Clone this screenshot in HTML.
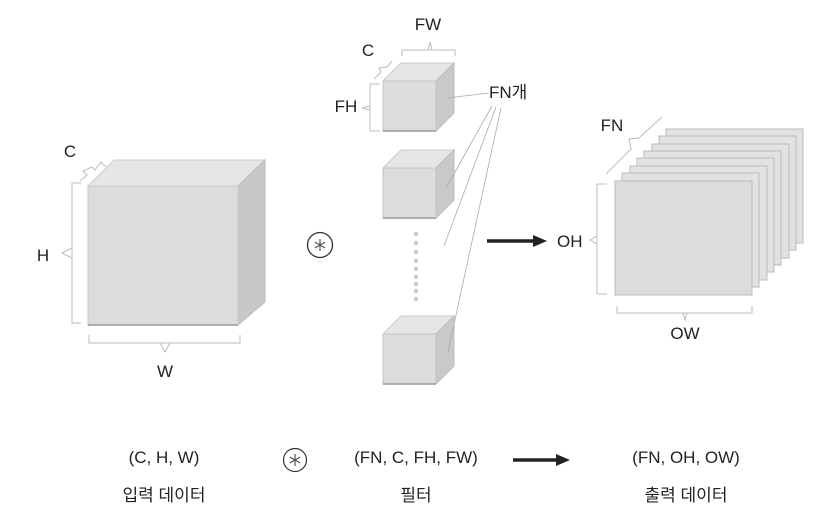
<!DOCTYPE html>
<html><head><meta charset="utf-8"><style>
html,body{margin:0;padding:0;background:#fff;width:835px;height:518px;overflow:hidden}
text{font-family:"Liberation Sans","Noto Sans CJK KR",sans-serif;fill:#222}
</style></head><body>
<svg width="835" height="518" viewBox="0 0 835 518" xmlns="http://www.w3.org/2000/svg">
<defs>
<g id="cube">
<polygon points="0,18 18,0 71,0 53,18" fill="#e6e6e6" stroke="#c8c8c8" stroke-width="1"/>
<polygon points="53,18 71,0 71,50 53,68" fill="#c9c9c9" stroke="#bbb" stroke-width="1"/>
<rect x="0" y="18" width="53" height="50" fill="#dcdcdc" stroke="#c4c4c4" stroke-width="1"/>
<line x1="0" y1="68" x2="53" y2="68" stroke="#999" stroke-width="1.5"/>
</g>
<g id="ast" stroke="#555" stroke-width="1.2">
<line x1="0" y1="-6" x2="0" y2="6"/>
<line x1="-5.2" y1="-3" x2="5.2" y2="3"/>
<line x1="-5.2" y1="3" x2="5.2" y2="-3"/>
</g>
</defs>
<polygon points="88,186 114,160 265,160 238,186" fill="#e6e6e6" stroke="#ccc"/>
<polygon points="238,186 265,160 265,302 238,325" fill="#c8c8c8" stroke="#bbb"/>
<rect x="88" y="186" width="150" height="139" fill="#dcdcdc" stroke="#c8c8c8"/>
<line x1="88" y1="325" x2="238" y2="325" stroke="#999" stroke-width="1.5"/>
<g fill="none" stroke="#bbb" stroke-width="1">
<path d="M81,183 L72,183 L72,323 L81,323 M72,248 L62,253 L72,258"/>
<path d="M89,335 L89,343 L240,343 L240,335 M160,343 L165,352 L170,343"/>
<path d="M80,181 L87,175 L83,171 L92,167 L95,170 L101,162 L106,167"/>
<path d="M380,84 L370,84 L370,131 L380,131 M370,106 L362,108 L370,110"/>
<path d="M402,56 L402,50 L455,50 L455,56 M428,50 L430,42 L432,50"/>
<path d="M374,79 L381,72 L379,68 L387,67 L392,61"/>
<path d="M607,184 L597,184 L597,294 L607,294 M597,236 L590,240 L597,244"/>
<path d="M617,306 L617,313 L752,313 L752,306 M683,313 L685,320 L687,313"/>
<path d="M606,174 L631,149 L629,139 L639,138 L662,117"/>
</g>
<use href="#cube" x="383" y="63"/>
<use href="#cube" x="383" y="150"/>
<use href="#cube" x="383" y="316"/>
<g fill="#c8c8c8">
<circle cx="416" cy="234" r="2.2"/><circle cx="416" cy="243" r="2.2"/><circle cx="416" cy="252" r="2.2"/><circle cx="416" cy="261" r="2.2"/><circle cx="416" cy="269" r="2.2"/><circle cx="416" cy="277" r="2.2"/><circle cx="416" cy="284" r="2.2"/><circle cx="416" cy="291" r="2.2"/><circle cx="416" cy="299" r="2.2"/>
</g>
<g stroke="#aaa" stroke-width="0.8">
<line x1="447" y1="98" x2="489" y2="93"/>
<line x1="492" y1="106" x2="446" y2="188"/>
<line x1="496" y1="107" x2="444" y2="246"/>
<line x1="501" y1="108" x2="448" y2="352"/>
</g>
<text x="489" y="98" font-size="17">FN개</text>
<text x="428" y="30" font-size="17" text-anchor="middle">FW</text>
<text x="368" y="56" font-size="17" text-anchor="middle">C</text>
<text x="346" y="112" font-size="17" text-anchor="middle">FH</text>
<text x="70" y="157" font-size="17" text-anchor="middle">C</text>
<text x="43" y="261" font-size="17" text-anchor="middle">H</text>
<text x="165" y="377" font-size="17" text-anchor="middle">W</text>
<circle cx="320" cy="245" r="12.5" fill="none" stroke="#333" stroke-width="1.3"/>
<use href="#ast" x="320" y="245"/>
<line x1="487" y1="241" x2="535" y2="241" stroke="#222" stroke-width="3.5"/>
<polygon points="533,235 547,241 533,247" fill="#222"/>
<text x="557" y="247" font-size="17">OH</text>
<g stroke="#bbb" stroke-width="1">
<rect x="666" y="129" width="137" height="114" fill="#e2e2e2"/>
<rect x="659" y="136" width="137" height="114" fill="#e2e2e2"/>
<rect x="652" y="144" width="137" height="114" fill="#e2e2e2"/>
<rect x="644" y="151" width="137" height="114" fill="#e2e2e2"/>
<rect x="637" y="158" width="137" height="114" fill="#e2e2e2"/>
<rect x="630" y="166" width="137" height="114" fill="#e2e2e2"/>
<rect x="622" y="173" width="137" height="114" fill="#e2e2e2"/>
<rect x="615" y="181" width="137" height="114" fill="#dcdcdc"/>
</g>
<text x="612" y="131" font-size="17" text-anchor="middle">FN</text>
<text x="685" y="339" font-size="17" text-anchor="middle">OW</text>
<text x="164" y="463" font-size="17" text-anchor="middle">(C, H, W)</text>
<circle cx="295" cy="460" r="11.5" fill="none" stroke="#333" stroke-width="1.2"/>
<use href="#ast" x="295" y="460"/>
<text x="416" y="463" font-size="17" text-anchor="middle">(FN, C, FH, FW)</text>
<line x1="513" y1="460" x2="558" y2="460" stroke="#222" stroke-width="3.5"/>
<polygon points="556,454 570,460 556,466" fill="#222"/>
<text x="686" y="463" font-size="17" text-anchor="middle">(FN, OH, OW)</text>
<text x="164" y="501" font-size="17" text-anchor="middle">입력 데이터</text>
<text x="416" y="501" font-size="17" text-anchor="middle">필터</text>
<text x="686" y="501" font-size="17" text-anchor="middle">출력 데이터</text>
</svg>
</body></html>
